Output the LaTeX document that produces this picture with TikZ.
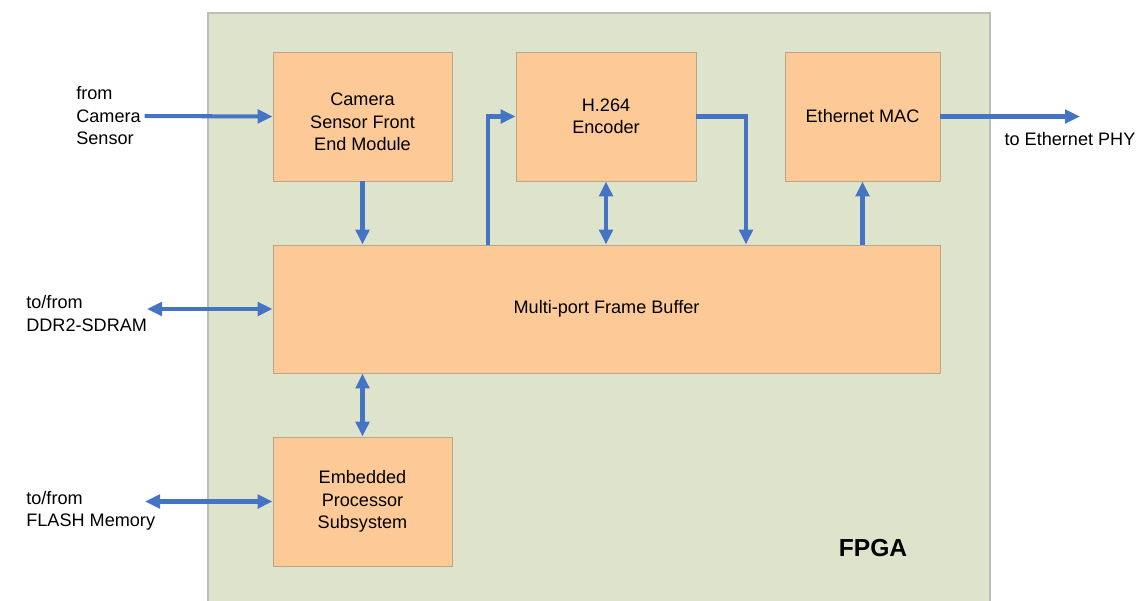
\documentclass[tikz,border=0pt]{standalone}
\usepackage{fontspec}
\setmainfont{Liberation Sans}
\usetikzlibrary{arrows.meta, positioning}

\definecolor{fpgagreen}{RGB}{222,227,204}
\definecolor{fpgaline}{RGB}{190,190,184}
\definecolor{blockfill}{RGB}{253,202,151}
\definecolor{blockline}{RGB}{185,165,135}
\definecolor{busblue}{RGB}{70,116,196}

\begin{document}
\begin{tikzpicture}[
      box/.style={draw=blockline, line width=0.5pt, fill=blockfill, minimum width=3.58cm, minimum height=2.58cm, align=center, font=\fontsize{10.3}{12.8}\selectfont},
      lbl/.style={align=left, inner sep=0pt, font=\fontsize{10.3}{12.8}\selectfont},
      arr/.style={-{Triangle[length=3mm,width=2.7mm]}, line width=2.3pt, draw=busblue},
      biarr/.style={{Triangle[length=3mm,width=2.7mm]}-{Triangle[length=3mm,width=2.7mm]}, line width=2.3pt, draw=busblue}
    ]
      \useasboundingbox (0,0) rectangle (22.8,-12);
      % FPGA outline
      \draw[fpgaline, line width=0.8pt, fill=fpgagreen] (4.16,-0.26) rectangle (19.8,-12.4);
      \node[font=\fontsize{14}{16}\selectfont\bfseries] (fpga) at (17.46,-10.96) {FPGA};

      \node[box, text height=39pt] (camera) at (7.25,-2.33)  {Camera\\Sensor Front\\End Module};
      \node[box, minimum width=3.6cm] (h264) at (12.12,-2.33) {H.264\\Encoder};
      \node[box, minimum width=3.1cm] (mac)  at (17.25,-2.33) {Ethernet MAC};
      \node[box, minimum width=13.34cm, minimum height=2.56cm] (buffer) at (12.13,-6.18) {Multi-port Frame Buffer};
      \node[box] (cpu)    at (7.25,-10.03) {Embedded\\Processor\\Subsystem};

      % outside labels
      \node[lbl, anchor=west] (camlbl)   at (1.52,-2.32)  {from\\Camera\\Sensor};
      \node[lbl, anchor=west] (ddrlbl)   at (0.52,-6.27)  {to/from\\DDR2-SDRAM};
      \node[lbl, anchor=west] (flashlbl) at (0.52,-10.22) {to/from\\FLASH Memory};
      \node[lbl] (phylbl) at (21.4,-2.78) {to Ethernet PHY};
      \coordinate (phy)   at (21.6,-2.33);
      \coordinate (ddr)   at (2.94,-6.18);
      \coordinate (flash) at (2.9,-10.03);

      \draw[arr] ([xshift=2pt]camlbl.east) -- (camera.west);
      \draw[arr] (camera.south) -- (camera.south |- buffer.north);
      \draw[arr] ([xshift=-2.37cm]buffer.north) |- (h264.west);
      \draw[biarr] (h264.south) -- (h264.south |- buffer.north);
      \draw[arr] (h264.east) -| ([xshift=2.79cm]buffer.north);
      \draw[arr] (mac.south |- buffer.north) -- (mac.south);
      \draw[arr] (mac.east) -- (phy);
      \draw[biarr] (ddr) -- (buffer.west);
      \draw[biarr] (cpu.north) -- (cpu.north |- buffer.south);
      \draw[biarr] (flash) -- (cpu.west);
    \end{tikzpicture}
\end{document}
